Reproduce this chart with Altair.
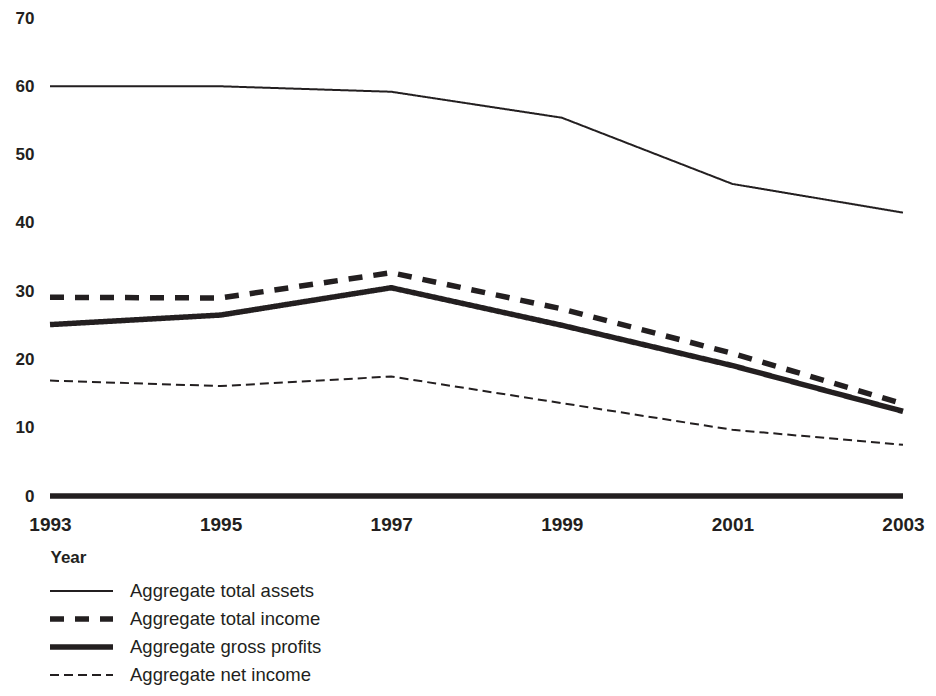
import altair as alt
import pandas as pd

years = [1993, 1995, 1997, 1999, 2001, 2003]
series_names = [
    "Aggregate total assets",
    "Aggregate total income",
    "Aggregate gross profits",
    "Aggregate net income",
]
total_assets = [60.0, 60.0, 59.2, 55.4, 45.7, 41.5]
total_income = [29.1, 29.0, 32.7, 27.4, 20.9, 13.5]
gross_profits = [25.1, 26.5, 30.5, 25.0, 19.1, 12.4]
net_income = [16.9, 16.1, 17.5, 13.6, 9.7, 7.5]
y_ticks = [0, 10, 20, 30, 40, 50, 60, 70]
x_ticks = [1993, 1995, 1997, 1999, 2001, 2003]
baseline = [0]

rows = []
for name, vals in zip(series_names, [total_assets, total_income, gross_profits, net_income]):
    for yr, v in zip(years, vals):
        rows.append({"year": yr, "value": v, "series": name})
df = pd.DataFrame(rows)

ink = "#231f20"
font = "Liberation Sans"

x_enc = alt.X(
    "year:Q",
    scale=alt.Scale(domain=[1993, 2003], nice=False, zero=False),
    axis=alt.Axis(values=x_ticks, format="d", title="Year", labelPadding=19,
                  labelFontSize=19, labelFlush=False,
                  titleAnchor="start", titleAlign="left", titlePadding=15,
                  titleFontSize=17, titleFontWeight="bold"),
)
y_enc = alt.Y(
    "value:Q",
    scale=alt.Scale(domain=[0, 70], nice=False),
    axis=alt.Axis(values=y_ticks, title=None, labelPadding=16, labelFontSize=17),
)

leg = alt.Legend(title=None, orient="none", legendX=-3, legendY=559,
                 symbolType="stroke", symbolSize=3969, labelOffset=14,
                 labelFontSize=18.5, labelFont=font, labelColor=ink, labelLimit=500,
                 symbolStrokeColor=ink, clipHeight=28, rowPadding=0, padding=0)

lines = alt.Chart(df).mark_line(color=ink, strokeCap="butt").encode(
    x=x_enc,
    y=y_enc,
    strokeDash=alt.StrokeDash(
        "series:N",
        scale=alt.Scale(domain=series_names, range=[[1, 0], [14, 11], [1, 0], [9, 5]]),
        legend=leg,
        sort=series_names,
    ),
    strokeWidth=alt.StrokeWidth(
        "series:N",
        scale=alt.Scale(type="ordinal", domain=series_names, range=[2, 5.5, 5.5, 2]),
        legend=leg,
        sort=series_names,
    ),
)

base = alt.Chart(pd.DataFrame({"y": baseline})).mark_rule(color=ink, strokeWidth=5.5).encode(
    y=alt.Y("y:Q")
)

chart = alt.layer(base, lines).properties(
    width=853,
    height=478,
    autosize=alt.AutoSizeParams(type="none"),
    padding={"left": 42, "top": 10, "right": 25, "bottom": 192},
).configure_view(stroke=None).configure_axis(
    domain=False, ticks=False, grid=False,
    labelFont=font, labelFontWeight="bold", labelColor=ink,
    titleFont=font, titleColor=ink,
)

chart.save("out.html", embed_options={"renderer": "svg", "actions": False})
